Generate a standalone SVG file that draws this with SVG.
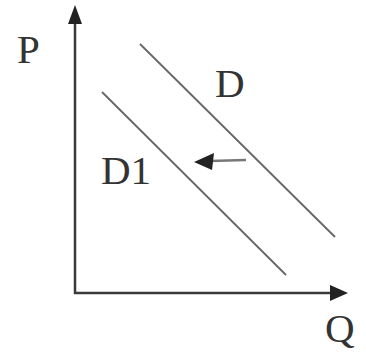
<svg xmlns="http://www.w3.org/2000/svg" width="366" height="356" viewBox="0 0 366 356">
<style>
.lbl{font-family:"Liberation Serif","Times New Roman",serif;font-size:41px;fill:#333}
.axis{stroke:#3a3a3a;stroke-width:2.5;fill:none}
.curve{stroke:#666;stroke-width:1.8;fill:none}
.head{fill:#222}
</style>
<rect width="366" height="356" fill="#fff"/>
<g id="axes">
<line class="axis" x1="75" y1="20" x2="75" y2="294"/>
<line class="axis" x1="74" y1="293" x2="333" y2="293"/>
<polygon class="head" points="75,5 68,24 82,24"/>
<polygon class="head" points="348,293 330,285 330,301"/>
</g>
<g id="connectors">
<line class="curve" x1="140" y1="44" x2="335" y2="237"/>
<line class="curve" x1="102" y1="92" x2="286" y2="275"/>
<line stroke="#777" stroke-width="2.5" x1="210" y1="161" x2="246" y2="160"/>
<polygon class="head" points="194,162 214,153 212,170"/>
</g>
<g id="label-P"><text class="lbl" x="17" y="63">P</text></g>
<g id="label-D"><text class="lbl" x="215" y="97">D</text></g>
<g id="label-D1"><text class="lbl" x="101" y="184">D1</text></g>
<g id="label-Q"><text class="lbl" x="325" y="342">Q</text></g>
</svg>
